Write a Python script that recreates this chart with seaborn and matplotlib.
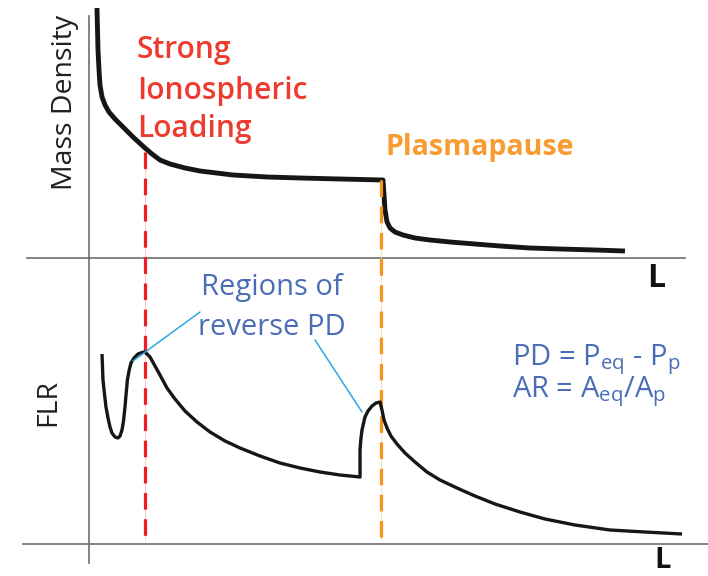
import matplotlib
matplotlib.use("Agg")
import matplotlib.pyplot as plt
import seaborn as sns

# ---------------- data (schematic values) ----------------
# Top panel: mass density versus L
L_top = [0.133, 0.142, 0.150, 0.167, 0.183, 0.217, 0.267, 0.333, 0.433, 0.567,
         0.733, 0.933, 1.050, 1.183, 1.350, 1.600, 1.850, 2.400, 2.967, 3.517,
         4.183, 4.900, 4.917, 4.933, 4.967, 5.017, 5.100, 5.233, 5.433, 5.683,
         6.017, 6.433, 6.850, 7.350, 7.850, 8.433, 8.933]
density = [10.00, 9.12, 8.32, 7.52, 6.92, 6.44, 6.12, 5.84, 5.56, 5.24,
           4.84, 4.40, 4.16, 3.92, 3.76, 3.60, 3.48, 3.32, 3.24, 3.20,
           3.16, 3.12, 2.52, 1.92, 1.44, 1.20, 1.04, 0.92, 0.80, 0.72,
           0.64, 0.56, 0.48, 0.40, 0.36, 0.32, 0.28]

# Bottom panel: field line resonance versus L
L_bot = [0.217, 0.225, 0.233, 0.258, 0.283, 0.317, 0.350, 0.383, 0.433, 0.483,
         0.517, 0.550, 0.575, 0.600, 0.620, 0.640, 0.670, 0.700, 0.750, 0.817,
         0.883, 0.933, 1.017, 1.100, 1.183, 1.300, 1.433, 1.600, 1.800, 2.017,
         2.267, 2.517, 2.850, 3.183, 3.517, 3.850, 4.183, 4.517, 4.517, 4.533,
         4.550, 4.600, 4.650, 4.717, 4.783, 4.850, 4.883, 4.917, 4.967, 5.033,
         5.133, 5.267, 5.433, 5.633, 5.850, 6.133, 6.433, 6.767, 7.183, 7.600,
         8.100, 8.683, 9.267, 9.883]
flr = [7.60, 7.08, 6.56, 6.00, 5.48, 5.04, 4.68, 4.44, 4.28, 4.24,
       4.32, 4.56, 4.92, 5.48, 6.04, 6.56, 6.96, 7.24, 7.44, 7.60,
       7.66, 7.68, 7.48, 7.12, 6.76, 6.24, 5.80, 5.32, 4.88, 4.48,
       4.12, 3.84, 3.52, 3.24, 3.04, 2.88, 2.76, 2.68, 3.76, 4.24,
       4.56, 5.08, 5.32, 5.52, 5.64, 5.68, 5.36, 4.96, 4.64, 4.32,
       4.00, 3.64, 3.28, 2.88, 2.56, 2.24, 1.92, 1.60, 1.28, 1.00,
       0.76, 0.56, 0.48, 0.40]

# Marker lines (L positions)
L_loading = 0.933
L_plasmapause = 4.867

# Pointer lines for "Regions of reverse PD" (L, FLR)
ptr1_L = [0.733, 1.850]
ptr1_F = [7.32, 9.28]
ptr2_L = [3.767, 4.550]
ptr2_F = [8.16, 5.28]

# ---------------- style ----------------
sns.set_style("white")
plt.rcParams["font.family"] = ["Open Sans", "DejaVu Sans"]
plt.rcParams["mathtext.fontset"] = "custom"
plt.rcParams["mathtext.rm"] = "Open Sans"

W, H = 708, 576
fig = plt.figure(figsize=(W / 100, H / 100), dpi=100)


def fx(px):
    return px / W


def fy(py):
    return 1 - py / H


AX_COL = "#6d6e71"
RED_TXT = "#ee3b2d"
RED_DASH = "#ee1c24"
ORA_TXT = "#f89c32"
ORA_DASH = "#f7941d"
BLUE_TXT = "#4a6db5"
BLUE_LINE = "#29aae1"
CURVE = "#161616"

# top panel
ax_t = fig.add_axes([fx(27), fy(258), fx(685) - fx(27), fy(0) - fy(258)])
ax_t.set_xlim(-1.0333, 9.9333)
ax_t.set_ylim(0, 10.32)
ax_t.patch.set_alpha(0)

# bottom panel
ax_b = fig.add_axes([fx(23), 0, 1 - fx(23), fy(258)])
ax_b.set_xlim(-1.1, 10.3167)
ax_b.set_ylim(-1.28, 11.44)
ax_b.patch.set_alpha(0)

for ax in (ax_t, ax_b):
    ax.set_xticks([])
    ax.set_yticks([])
    ax.spines["top"].set_visible(False)
    ax.spines["right"].set_visible(False)
    for s in ("left", "bottom"):
        ax.spines[s].set_color(AX_COL)
        ax.spines[s].set_linewidth(1.2)
    ax.spines["left"].set_position(("data", 0))

ax_t.spines["left"].set_bounds(0, 9.68)
ax_b.spines["bottom"].set_position(("data", 0))
ax_b.spines["left"].set_bounds(-0.76, 11.44)

# curves
sns.lineplot(x=L_top, y=density, ax=ax_t, sort=False, estimator=None,
             color=CURVE, linewidth=3.5, solid_joinstyle="round",
             solid_capstyle="butt", zorder=3)
sns.lineplot(x=L_bot, y=flr, ax=ax_b, sort=False, estimator=None,
             color=CURVE, linewidth=2.4, solid_joinstyle="round",
             solid_capstyle="butt", zorder=3)

# pointer lines
ax_b.plot(ptr1_L, ptr1_F, color=BLUE_LINE, lw=1.1, zorder=4)
ax_b.plot(ptr2_L, ptr2_F, color=BLUE_LINE, lw=1.1, zorder=4)

# dashed marker lines (drawn in top panel, extending into the lower panel)
for Lx, ytop, c_dash, c_faint in ((L_loading, 4.24, RED_DASH, "#f9c4bd"),
                                  (L_plasmapause, 3.12, ORA_DASH, "#fbd7b0")):
    ax_t.plot([Lx, Lx], [ytop, -11.28], color=c_faint, lw=0.6,
              clip_on=False, zorder=5)
    ax_t.plot([Lx, Lx], [ytop, -11.28], color=c_dash, lw=2.3,
              dashes=(5.2, 3.0), clip_on=False, zorder=6)

# ---------------- text ----------------
fig.text(fx(65), fy(102), "Mass Density", rotation=90, ha="center",
         va="center", fontsize=20.5, color="#231f20")
fig.text(fx(48), fy(403), "FLR", rotation=90, ha="center", va="center",
         fontsize=20.5, color="#231f20")

for txt, base in (("Strong", 58), ("Ionospheric", 99), ("Loading", 137)):
    fig.text(fx(137), fy(base), txt, ha="left", va="baseline",
             fontsize=21.5, fontweight="semibold", color=RED_TXT)

fig.text(fx(386), fy(155), "Plasmapause", ha="left", va="baseline",
         fontsize=20.5, fontweight="bold", color=ORA_TXT)

fig.text(fx(272), fy(295), "Regions of", ha="center", va="baseline",
         fontsize=21, color=BLUE_TXT)
fig.text(fx(272), fy(335), "reverse PD", ha="center", va="baseline",
         fontsize=21, color=BLUE_TXT)

fig.text(fx(512), fy(365), r"PD = P$_\mathregular{eq}$ - P$_\mathregular{p}$",
         ha="left", va="baseline", fontsize=21, color=BLUE_TXT)
fig.text(fx(512), fy(397), r"AR = A$_\mathregular{eq}$/A$_\mathregular{p}$",
         ha="left", va="baseline", fontsize=21, color=BLUE_TXT)

fig.text(fx(647), fy(287), "L", ha="left", va="baseline", fontsize=23,
         fontweight="bold", color="#111111")
fig.text(fx(654), fy(575.5), "L", ha="left", va="bottom", fontsize=21,
         fontweight="bold", color="#111111")

fig.savefig("out.png", dpi=100, facecolor="white")
